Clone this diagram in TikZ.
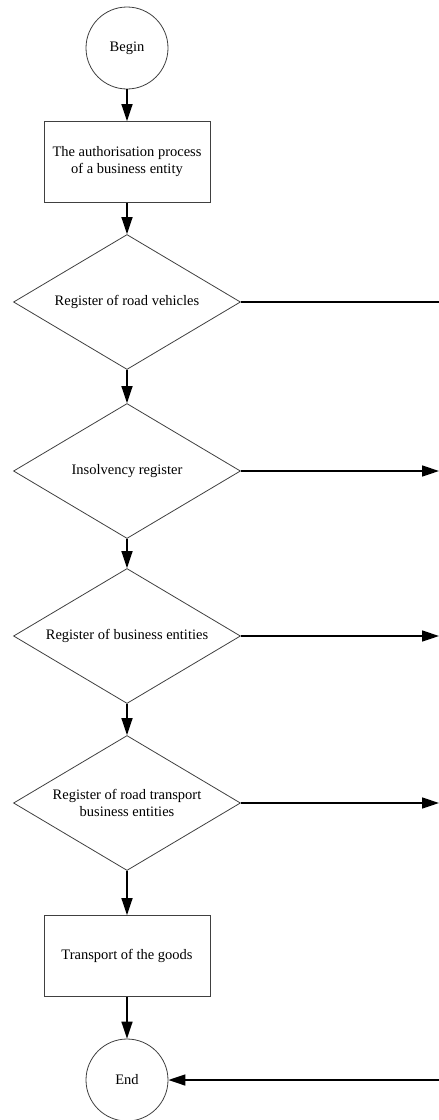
\documentclass[tikz,border=0pt]{standalone}
\usepackage{fontspec}
\setmainfont{Liberation Serif}
\usetikzlibrary{shapes.geometric,arrows.meta}
\tikzset{
  base/.style={draw=black!75, line width=0.8pt, fill=white, font=\fontsize{14.5}{17}\selectfont, align=center, inner sep=0pt},
  term/.style={base, circle, minimum size=82pt},
  proc/.style={base, rectangle, minimum width=166pt, minimum height=81pt},
  dec/.style={base, diamond, aspect=1.68, minimum width=227pt, minimum height=135pt},
  conn/.style={line width=1.6pt, -{Triangle[length=17pt,width=11pt]}},
  plain/.style={line width=1.6pt}
}
\begin{document}
\begin{tikzpicture}[x=1pt,y=-1pt]
\useasboundingbox (0,0) rectangle (439,1120);
\node[term] (begin) at (127,48) {Begin};
\node[proc] (auth) at (127,162) {The authorisation process\\of a business entity};
\node[dec] (d1) at (127,302) {Register of road vehicles};
\node[dec] (d2) at (127,471) {Insolvency register};
\node[dec] (d3) at (127,636) {Register of business entities};
\node[dec] (d4) at (127,803) {Register of road transport\\business entities};
\node[proc] (trans) at (127,956) {Transport of the goods};
\node[term] (end) at (127,1080) {End};
\coordinate (r1) at (439,302);
\coordinate (r2) at (439,471);
\coordinate (r3) at (439,636);
\coordinate (r4) at (439,803);
\coordinate (r5) at (439,1080);
\draw[conn] (begin) -- (auth);
\draw[conn] (auth) -- (d1);
\draw[conn] (d1) -- (d2);
\draw[conn] (d2) -- (d3);
\draw[conn] (d3) -- (d4);
\draw[conn] (d4) -- (trans);
\draw[conn] (trans) -- (end);
\draw[plain] (d1.east) -- (r1);
\draw[conn] (d2.east) -- (r2);
\draw[conn] (d3.east) -- (r3);
\draw[conn] (d4.east) -- (r4);
\draw[conn] (r5) -- (end.east);
\end{tikzpicture}
\end{document}
